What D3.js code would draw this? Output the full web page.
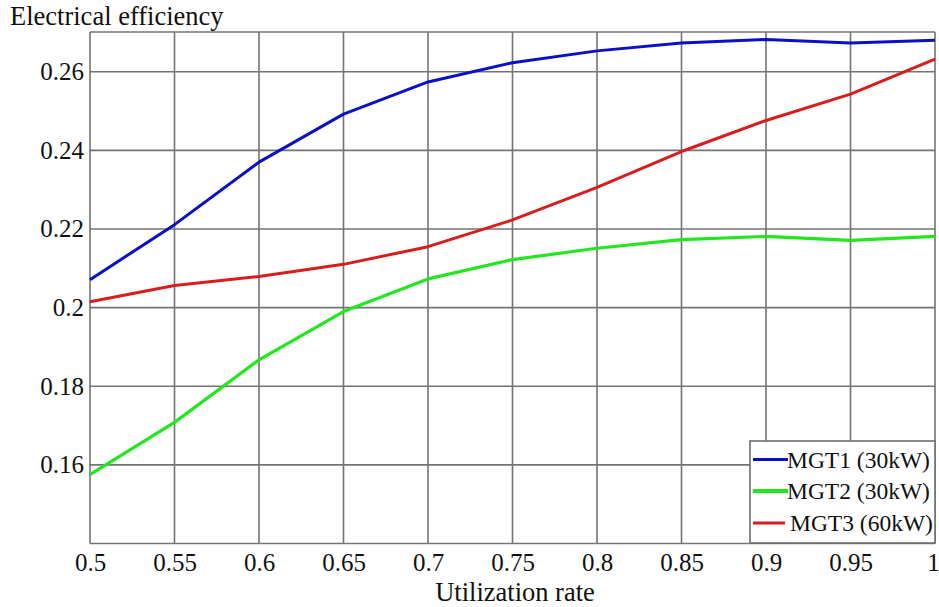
<!DOCTYPE html>
<html>
<head>
<meta charset="utf-8">
<script src="https://cdn.jsdelivr.net/npm/d3@7/dist/d3.min.js"></script>
<style>
  html, body { margin: 0; padding: 0; background: #fff; }
  svg text { font-family: "Liberation Serif", "Times New Roman", Times, serif; fill: #111; }
</style>
</head>
<body>
<svg id="chart" width="939" height="607"></svg>
<script>
const utilization = [0.5, 0.55, 0.6, 0.65, 0.7, 0.75, 0.8, 0.85, 0.9, 0.95, 1.0];
const mgt1 = [0.2071, 0.2211, 0.2370, 0.2492, 0.2574, 0.2623, 0.2653, 0.2673, 0.2682, 0.2673, 0.2680];
const mgt2 = [0.1575, 0.1708, 0.1867, 0.1990, 0.2073, 0.2122, 0.2151, 0.2173, 0.2181, 0.2171, 0.2181];
const mgt3 = [0.2015, 0.2056, 0.2079, 0.2110, 0.2155, 0.2223, 0.2306, 0.2397, 0.2476, 0.2543, 0.2632];
const seriesNames = ["MGT1 (30kW)", "MGT2 (30kW)", "MGT3 (60kW)"];
const seriesColors = ["#0a0fc8", "#22e61e", "#d91c1c"];
const xTicks = [0.5, 0.55, 0.6, 0.65, 0.7, 0.75, 0.8, 0.85, 0.9, 0.95, 1];
const xTickLabels = ["0.5", "0.55", "0.6", "0.65", "0.7", "0.75", "0.8", "0.85", "0.9", "0.95", "1"];
const yTicks = [0.16, 0.18, 0.2, 0.22, 0.24, 0.26];
const yTickLabels = ["0.16", "0.18", "0.2", "0.22", "0.24", "0.26"];
const xTitle = "Utilization rate";
const yTitle = "Electrical efficiency";

const svg = d3.select("#chart");
const L = 90, R = 935, T = 32, B = 543.5;
const x = d3.scaleLinear().domain([0.5, 1]).range([L, R]);
const y = d3.scaleLinear().domain([0.14, 0.2701]).range([B, T]);
const gridColor = "#747474";

// grid
const g = svg.append("g");
g.selectAll("line.vg").data(xTicks).enter().append("line")
  .attr("x1", d => x(d)).attr("x2", d => x(d)).attr("y1", T).attr("y2", B)
  .attr("stroke", gridColor).attr("stroke-width", 1.6);
g.selectAll("line.hg").data(yTicks).enter().append("line")
  .attr("x1", L).attr("x2", R).attr("y1", d => y(d)).attr("y2", d => y(d))
  .attr("stroke", gridColor).attr("stroke-width", 1.6);
g.append("line").attr("x1", L).attr("x2", R).attr("y1", T).attr("y2", T).attr("stroke", gridColor).attr("stroke-width", 1.6);
g.append("line").attr("x1", L).attr("x2", R).attr("y1", B).attr("y2", B).attr("stroke", gridColor).attr("stroke-width", 1.6);

// axes labels
const xAxis = d3.axisBottom(x).tickValues(xTicks).tickFormat((d, i) => xTickLabels[i]).tickSize(0).tickPadding(10);
const xg = svg.append("g").attr("transform", `translate(0,${B})`).call(xAxis);
xg.select(".domain").remove();
xg.selectAll("text").attr("font-size", 25).attr("fill", "#111")
  .attr("dx", (d, i) => i === xTicks.length - 1 ? -2 : 0);

const yAxis = d3.axisLeft(y).tickValues(yTicks).tickFormat((d, i) => yTickLabels[i]).tickSize(0).tickPadding(6);
const yg = svg.append("g").attr("transform", `translate(${L},0)`).call(yAxis);
yg.select(".domain").remove();
yg.selectAll("text").attr("font-size", 25).attr("fill", "#111");

// titles
svg.append("text").attr("x", 10).attr("y", 25).attr("font-size", 26.5).text(yTitle);
svg.append("text").attr("x", 515).attr("y", 601).attr("text-anchor", "middle").attr("font-size", 26.5).text(xTitle);

// lines
const data = [mgt1, mgt2, mgt3];
const line = d3.line().x((d, i) => x(utilization[i])).y(d => y(d));
svg.selectAll("path.series").data(data).enter().append("path")
  .attr("d", d => line(d))
  .attr("fill", "none")
  .attr("stroke", (d, i) => seriesColors[i])
  .attr("stroke-width", (d, i) => i === 1 ? 3.2 : 3)
  .attr("stroke-linejoin", "round");

// legend
const lg = svg.append("g");
lg.append("rect").attr("x", 750).attr("y", 441).attr("width", 185).attr("height", 102)
  .attr("fill", "#fff").attr("stroke", "#6f6f6f").attr("stroke-width", 1.6);
const rowsY = [459.5, 491, 523];
seriesNames.forEach((name, i) => {
  lg.append("line").attr("x1", 753).attr("x2", i === 2 ? 785 : 788)
    .attr("y1", rowsY[i]).attr("y2", rowsY[i])
    .attr("stroke", seriesColors[i]).attr("stroke-width", i === 1 ? 4 : 3);
  lg.append("text").attr("x", i === 2 ? 790 : 787).attr("y", rowsY[i] + 8)
    .attr("font-size", 23.5).text(name);
});
</script>
</body>
</html>
